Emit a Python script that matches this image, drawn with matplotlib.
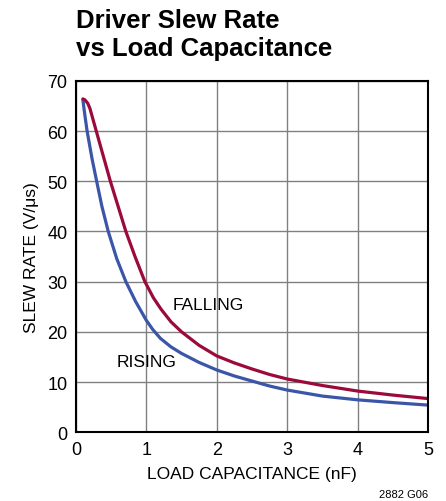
import matplotlib
matplotlib.use("Agg")
import matplotlib.pyplot as plt

plt.rcParams['font.family'] = ['Liberation Sans Narrow', 'DejaVu Sans Condensed',
                               'Liberation Sans', 'DejaVu Sans']

# falling edge
fall_x = [0.1, 0.13, 0.17, 0.2, 0.24, 0.3, 0.4, 0.49, 0.6, 0.71, 0.84, 0.98, 1.1, 1.21,
          1.35, 1.5, 1.75, 2.0, 2.25, 2.5, 2.75, 3.0, 3.5, 4.0, 4.5, 5.0]
fall_y = [66.4, 66.2, 65.5, 64.5, 62.5, 59.5, 54.5, 50, 45, 40, 35, 30, 26.8, 24.5,
          22, 20, 17.3, 15.2, 13.8, 12.6, 11.5, 10.6, 9.3, 8.2, 7.4, 6.7]

# rising edge
rise_x = [0.1, 0.13, 0.16, 0.23, 0.3, 0.37, 0.46, 0.58, 0.71, 0.85, 1.0, 1.09, 1.2, 1.35,
          1.5, 1.75, 2.0, 2.25, 2.5, 2.75, 3.0, 3.5, 4.0, 4.5, 5.0]
rise_y = [66.2, 63, 60, 54.5, 49.7, 45, 40, 34.6, 30, 26, 22.3, 20.5, 18.7, 17.0,
          15.7, 13.9, 12.4, 11.2, 10.2, 9.2, 8.4, 7.2, 6.45, 5.9, 5.4]

xticks = [0, 1, 2, 3, 4, 5]
yticks = [0, 10, 20, 30, 40, 50, 60, 70]

fig = plt.figure(figsize=(4.46, 5.02), dpi=100)
ax = fig.add_axes([0.170, 0.137, 0.790, 0.700])

ax.plot(rise_x, rise_y, color='#3b55a8', lw=2.3, solid_capstyle='round', solid_joinstyle='round')
ax.plot(fall_x, fall_y, color='#9b0a3a', lw=2.3, solid_capstyle='round', solid_joinstyle='round')

ax.set_xlim(0, 5)
ax.set_ylim(0, 70)
ax.set_xticks(xticks)
ax.set_yticks(yticks)
ax.grid(True, color='#808080', lw=1.0)
ax.set_axisbelow(True)
ax.tick_params(length=0, labelsize=13, pad=6)
for s in ax.spines.values():
    s.set_linewidth(1.5)
    s.set_color('black')

ax.set_xlabel('LOAD CAPACITANCE (nF)', fontsize=12.5, labelpad=6)
ax.set_ylabel('SLEW RATE (V/μs)', fontsize=12.5, labelpad=6)

ax.text(1.38, 25.5, 'FALLING', fontsize=12.5, va='center', ha='left')
ax.text(0.58, 14, 'RISING', fontsize=12.5, va='center', ha='left')

fig.text(76 / 446, 1 - 9 / 502, 'Driver Slew Rate\nvs Load Capacitance',
         fontsize=18.5, fontweight='bold', ha='left', va='top', linespacing=1.2)
fig.text(428 / 446, 1 - 500 / 502, '2882 G06', fontsize=8, ha='right', va='bottom')

fig.savefig('out.png', dpi=100)
